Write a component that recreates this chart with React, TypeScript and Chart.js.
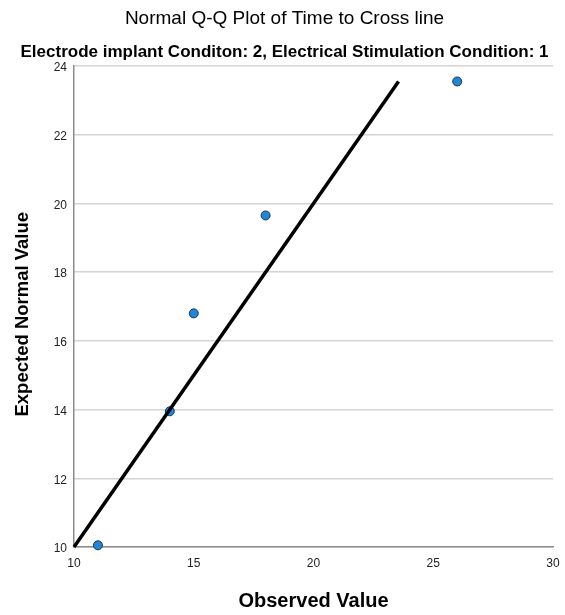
import React, { useEffect, useRef } from "react";
import { Chart, registerables } from "chart.js";

Chart.register(...registerables);

const observedValues = [11, 14, 15, 18, 26];
const expectedNormalValues = [10.05, 13.95, 16.8, 19.65, 23.55];
const refLineX = [10, 23.55];
const refLineY = [10, 23.55];
const xTicks = [10, 15, 20, 25, 30];
const yTicks = [10, 12, 14, 16, 18, 20, 22, 24];

const FONT = "'Liberation Sans', Arial, sans-serif";

export default function App() {
  const ref = useRef<HTMLCanvasElement | null>(null);
  useEffect(() => {
    if (!ref.current) return;
    const chart = new Chart(ref.current, {
      type: "scatter",
      data: {
        datasets: [
          {
            label: "Reference",
            data: refLineX.map((x, i) => ({ x, y: refLineY[i] })),
            showLine: true,
            borderColor: "#000000",
            borderWidth: 3.5,
            pointRadius: 0,
            order: 0,
            clip: false as any,
          },
          {
            label: "Observed",
            data: observedValues.map((x, i) => ({ x, y: expectedNormalValues[i] })),
            backgroundColor: "#1f87d6",
            borderColor: "#1b3550",
            borderWidth: 1,
            pointRadius: 4.5,
            order: 1,
            clip: false as any,
          },
        ],
      },
      options: {
        responsive: false,
        animation: false,
        layout: { padding: { left: 8, right: 4, top: 0, bottom: 0 } },
        plugins: {
          legend: { display: false },
          tooltip: { enabled: false },
          title: {
            display: true,
            text: "Normal Q-Q Plot of Time to Cross line",
            color: "#000",
            font: { family: FONT, size: 19, weight: "normal" },
            padding: { top: 7, bottom: 0 },
          },
          subtitle: {
            display: true,
            text: "Electrode implant Conditon: 2, Electrical Stimulation Condition: 1",
            color: "#000",
            font: { family: FONT, size: 17, weight: "bold" },
            padding: { top: 12, bottom: 3.8 },
          },
        },
        scales: {
          x: {
            type: "linear",
            min: 10,
            max: 30,
            afterBuildTicks: (s: any) => {
              s.ticks = xTicks.map((v) => ({ value: v }));
            },
            afterFit: (s: any) => {
              s.height = 68;
              s.paddingRight = 12;
              s.paddingLeft = 0;
            },
            grid: { display: false, drawTicks: false },
            border: { display: true, color: "#8c8c8c", width: 1.5 },
            ticks: {
              color: "#222",
              padding: 9,
              font: { family: FONT, size: 12 },
            },
            title: {
              display: true,
              text: "Observed Value",
              color: "#000",
              font: { family: FONT, size: 20, weight: "bold" },
              padding: { top: 0, bottom: 2 },
            },
          },
          y: {
            type: "linear",
            min: 10,
            max: 24,
            afterBuildTicks: (s: any) => {
              s.ticks = yTicks.map((v) => ({ value: v }));
            },
            afterFit: (s: any) => {
              s.width = 66;
            },
            grid: { display: true, drawTicks: false, color: "#d4d4d4", lineWidth: 1.5 },
            border: { display: true, color: "#8c8c8c", width: 1.5 },
            ticks: {
              color: "#222",
              padding: 7,
              labelOffset: 2,
              font: { family: FONT, size: 12 },
            },
            title: {
              display: true,
              text: "Expected Normal Value   ",
              color: "#000",
              font: { family: FONT, size: 18.5, weight: "bold" },
              padding: { top: 4, bottom: 0 },
            },
          },
        },
      },
    });
    return () => chart.destroy();
  }, []);
  return (
    <div style={{ position: "absolute", left: 0, top: 0, width: 565, height: 615, background: "#fff" }}>
      <canvas ref={ref} width={565} height={615} style={{ width: 565, height: 615 }} />
    </div>
  );
}
